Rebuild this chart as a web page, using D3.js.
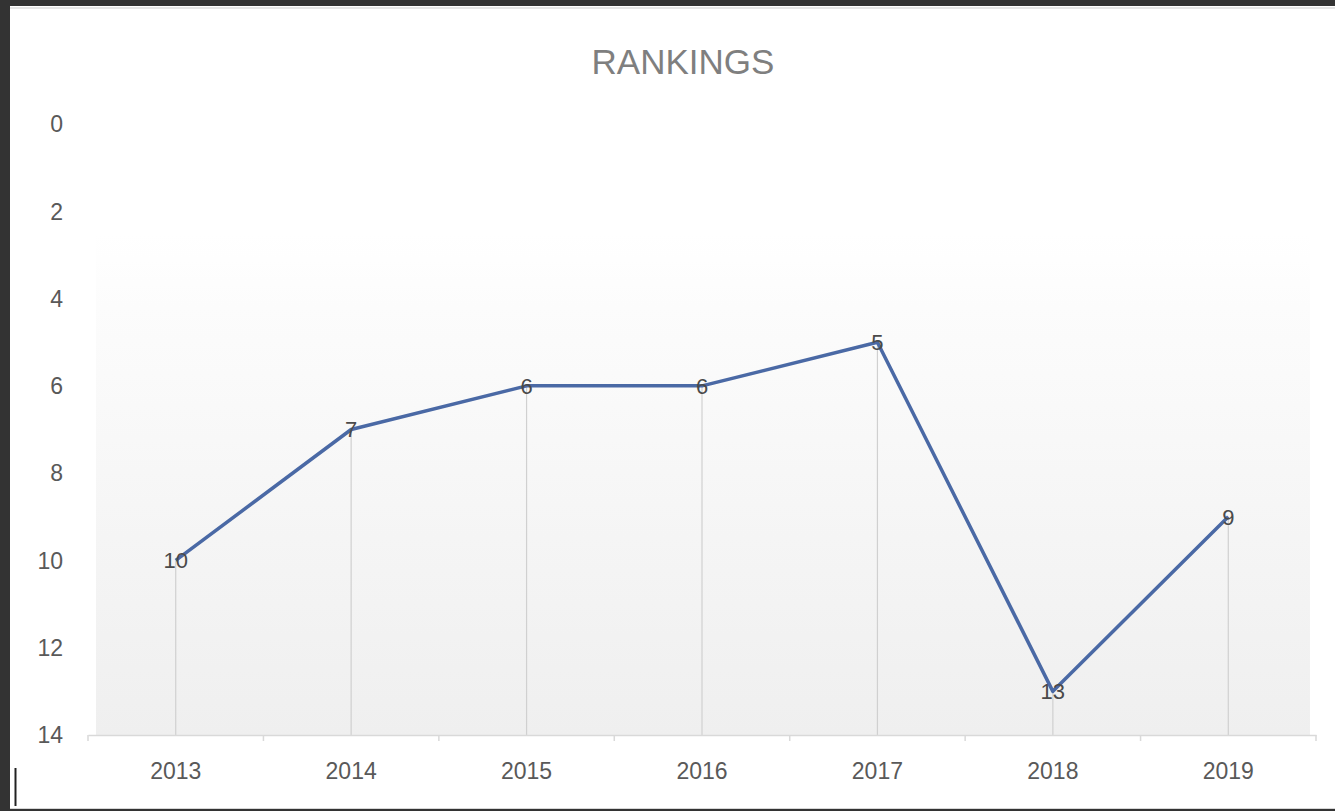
<!DOCTYPE html>
<html><head><meta charset="utf-8">
<script src="https://cdn.jsdelivr.net/npm/d3@7"></script>
<style>html,body{margin:0;padding:0;background:#fff;}svg{display:block;}</style>
</head><body>
<svg id="c" width="1335" height="811"></svg>
<script>
const title = "RANKINGS";
const years = ["2013","2014","2015","2016","2017","2018","2019"];
const ranks = [10, 7, 6, 6, 5, 13, 9];
const yTicks = [0, 2, 4, 6, 8, 10, 12, 14];

(function(){
const svg = d3.select("#c");
const W = 1335, H = 811;
const font = "'Liberation Sans', Arial, sans-serif";

// frame
svg.append("rect").attr("x",0).attr("y",0).attr("width",W).attr("height",H).attr("fill","#333");
svg.append("rect").attr("x",10).attr("y",6).attr("width",W-10).attr("height",802).attr("fill","#fff");
svg.append("line").attr("x1",10).attr("x2",W).attr("y1",8).attr("y2",8).attr("stroke","#e6e6e6").attr("stroke-width",2);
svg.append("line").attr("x1",10).attr("x2",W).attr("y1",808.5).attr("y2",808.5).attr("stroke","#d6d6d6").attr("stroke-width",1);
svg.append("line").attr("x1",15.5).attr("x2",15.5).attr("y1",768).attr("y2",806).attr("stroke","#222").attr("stroke-width",2);

const pL = 88, pR = 1316, pT = 124, pB = 735;
const x = d3.scaleBand().domain(years).range([pL, pR]);
const y = d3.scaleLinear().domain([0, 14]).range([pT, pB]);

// gradient plot background
const defs = svg.append("defs");
const g = defs.append("linearGradient").attr("id","bg").attr("x1",0).attr("x2",0).attr("y1",0).attr("y2",1);
g.append("stop").attr("offset","0%").attr("stop-color","#ffffff");
g.append("stop").attr("offset","18%").attr("stop-color","#ffffff");
g.append("stop").attr("offset","30%").attr("stop-color","#fcfcfc");
g.append("stop").attr("offset","100%").attr("stop-color","#efefef");
svg.append("rect").attr("x",pL+8).attr("y",pT).attr("width",pR-pL-14).attr("height",pB-pT).attr("fill","url(#bg)");

// title
svg.append("text").attr("x",683).attr("y",74).attr("text-anchor","middle")
  .attr("font-family",font).attr("font-size",35).attr("fill","#7f7f7f").text(title);

// y labels
svg.append("g").selectAll("text").data(yTicks).join("text")
  .attr("x",63).attr("y",d=>y(d)).attr("dy","0.36em").attr("text-anchor","end")
  .attr("font-family",font).attr("font-size",23).attr("fill","#595959").text(d=>d);

// drop lines
svg.append("g").selectAll("line").data(years).join("line")
  .attr("x1",d=>x(d)+x.bandwidth()/2).attr("x2",d=>x(d)+x.bandwidth()/2)
  .attr("y1",(d,i)=>y(ranks[i])).attr("y2",pB)
  .attr("stroke","#d0d0d0").attr("stroke-width",1.2);

// x axis
const xa = svg.append("g").attr("transform",`translate(0,${pB})`)
  .call(d3.axisBottom(x).tickSize(0).tickFormat(""));
xa.select(".domain").attr("stroke","#d9d9d9").attr("stroke-width",1.5);
const bounds = years.map(d=>x(d)).concat([pR]);
svg.append("g").selectAll("line").data(bounds).join("line")
  .attr("x1",d=>d).attr("x2",d=>d).attr("y1",pB).attr("y2",pB+6)
  .attr("stroke","#d9d9d9").attr("stroke-width",1.5);
svg.append("g").selectAll("text").data(years).join("text")
  .attr("x",d=>x(d)+x.bandwidth()/2).attr("y",779).attr("text-anchor","middle")
  .attr("font-family",font).attr("font-size",23).attr("fill","#595959").text(d=>d);

// line
const line = d3.line().x((d,i)=>x(years[i])+x.bandwidth()/2).y(d=>y(d));
svg.append("path").datum(ranks).attr("d",line).attr("fill","none")
  .attr("stroke","#4a69a5").attr("stroke-width",3.5).attr("stroke-linejoin","round");

// data labels
svg.append("g").selectAll("text").data(ranks).join("text")
  .attr("x",(d,i)=>x(years[i])+x.bandwidth()/2).attr("y",d=>y(d)).attr("dy","0.36em")
  .attr("text-anchor","middle").attr("font-family",font).attr("font-size",22)
  .attr("fill","#4a4a4a").text(d=>d);
})();
</script>
</body></html>
